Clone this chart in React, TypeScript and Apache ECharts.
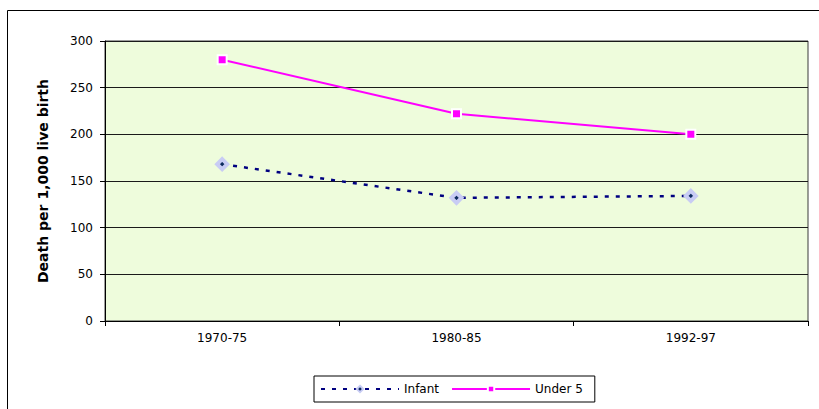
import React, { useEffect, useRef } from "react";
import * as echarts from "echarts";

// Mortality rates per 1,000 live births by period
const periods = ["1970-75", "1980-85", "1992-97"];
const infant = [168, 132, 134];
const underFive = [280, 222, 200];
const yTicks = { min: 0, max: 300, interval: 50 };

export default function App() {
  const ref = useRef<HTMLDivElement>(null);

  useEffect(() => {
    if (!ref.current) return;
    const chart = echarts.init(ref.current, null, { renderer: "svg" });
    const font = "DejaVu Sans, Verdana, sans-serif";
    chart.setOption({
      animation: false,
      backgroundColor: "#ffffff",
      textStyle: { fontFamily: font },
      graphic: [
        {
          type: "rect",
          shape: { x: 7.5, y: 10.5, width: 900, height: 500 },
          style: { fill: "none", stroke: "#000", lineWidth: 1 },
          silent: true,
        },
      ],
      grid: {
        left: 105,
        top: 41,
        right: 11,
        bottom: 88,
        show: true,
        backgroundColor: "#eefcdc",
        borderColor: "#3a3a3a",
        borderWidth: 1,
      },
      legend: {
        left: 314,
        top: 376,
        padding: [7, 12, 7, 6],
        borderColor: "#000",
        borderWidth: 1,
        itemWidth: 78,
        itemHeight: 8,
        itemGap: 12,
        textStyle: { fontSize: 12, color: "#000", fontFamily: font },
        data: ["Infant", "Under 5"],
      },
      xAxis: {
        type: "category",
        data: periods,
        boundaryGap: true,
        axisLine: { show: true, lineStyle: { color: "#000", width: 1 } },
        axisTick: { show: true, length: 5, inside: false, lineStyle: { color: "#000" } },
        axisLabel: { fontSize: 12, color: "#000", margin: 11, fontFamily: font },
        splitLine: { show: false },
      },
      yAxis: {
        type: "value",
        min: yTicks.min,
        max: yTicks.max,
        interval: yTicks.interval,
        name: "Death per 1,000 live birth",
        nameLocation: "middle",
        nameGap: 55,
        nameRotate: 90,
        nameTextStyle: { fontSize: 14, fontWeight: 900, color: "#000", fontFamily: font },
        axisLine: { show: true, lineStyle: { color: "#000", width: 1 } },
        axisTick: { show: true, length: 5, lineStyle: { color: "#000" } },
        axisLabel: { fontSize: 12, color: "#000", margin: 12, fontFamily: font },
        splitLine: { show: true, lineStyle: { color: "#1a1a1a", width: 1 } },
      },
      series: [
        {
          name: "Infant",
          type: "line",
          data: infant,
          symbol: "diamond",
          symbolSize: 10,
          lineStyle: { color: "#000080", width: 2.5, type: [4, 7] },
          itemStyle: { color: "#0d2b5e", borderColor: "#c8ccf4", borderWidth: 4 },
          z: 3,
        },
        {
          name: "Under 5",
          type: "line",
          data: underFive,
          symbol: "rect",
          symbolSize: 9,
          lineStyle: { color: "#ff00ff", width: 2 },
          itemStyle: { color: "#ff00ff", borderColor: "#ffffff", borderWidth: 2 },
          z: 4,
        },
      ],
    });
    return () => chart.dispose();
  }, []);

  return (
    <div
      ref={ref}
      style={{ position: "absolute", left: 0, top: 0, width: 819, height: 409 }}
    />
  );
}
